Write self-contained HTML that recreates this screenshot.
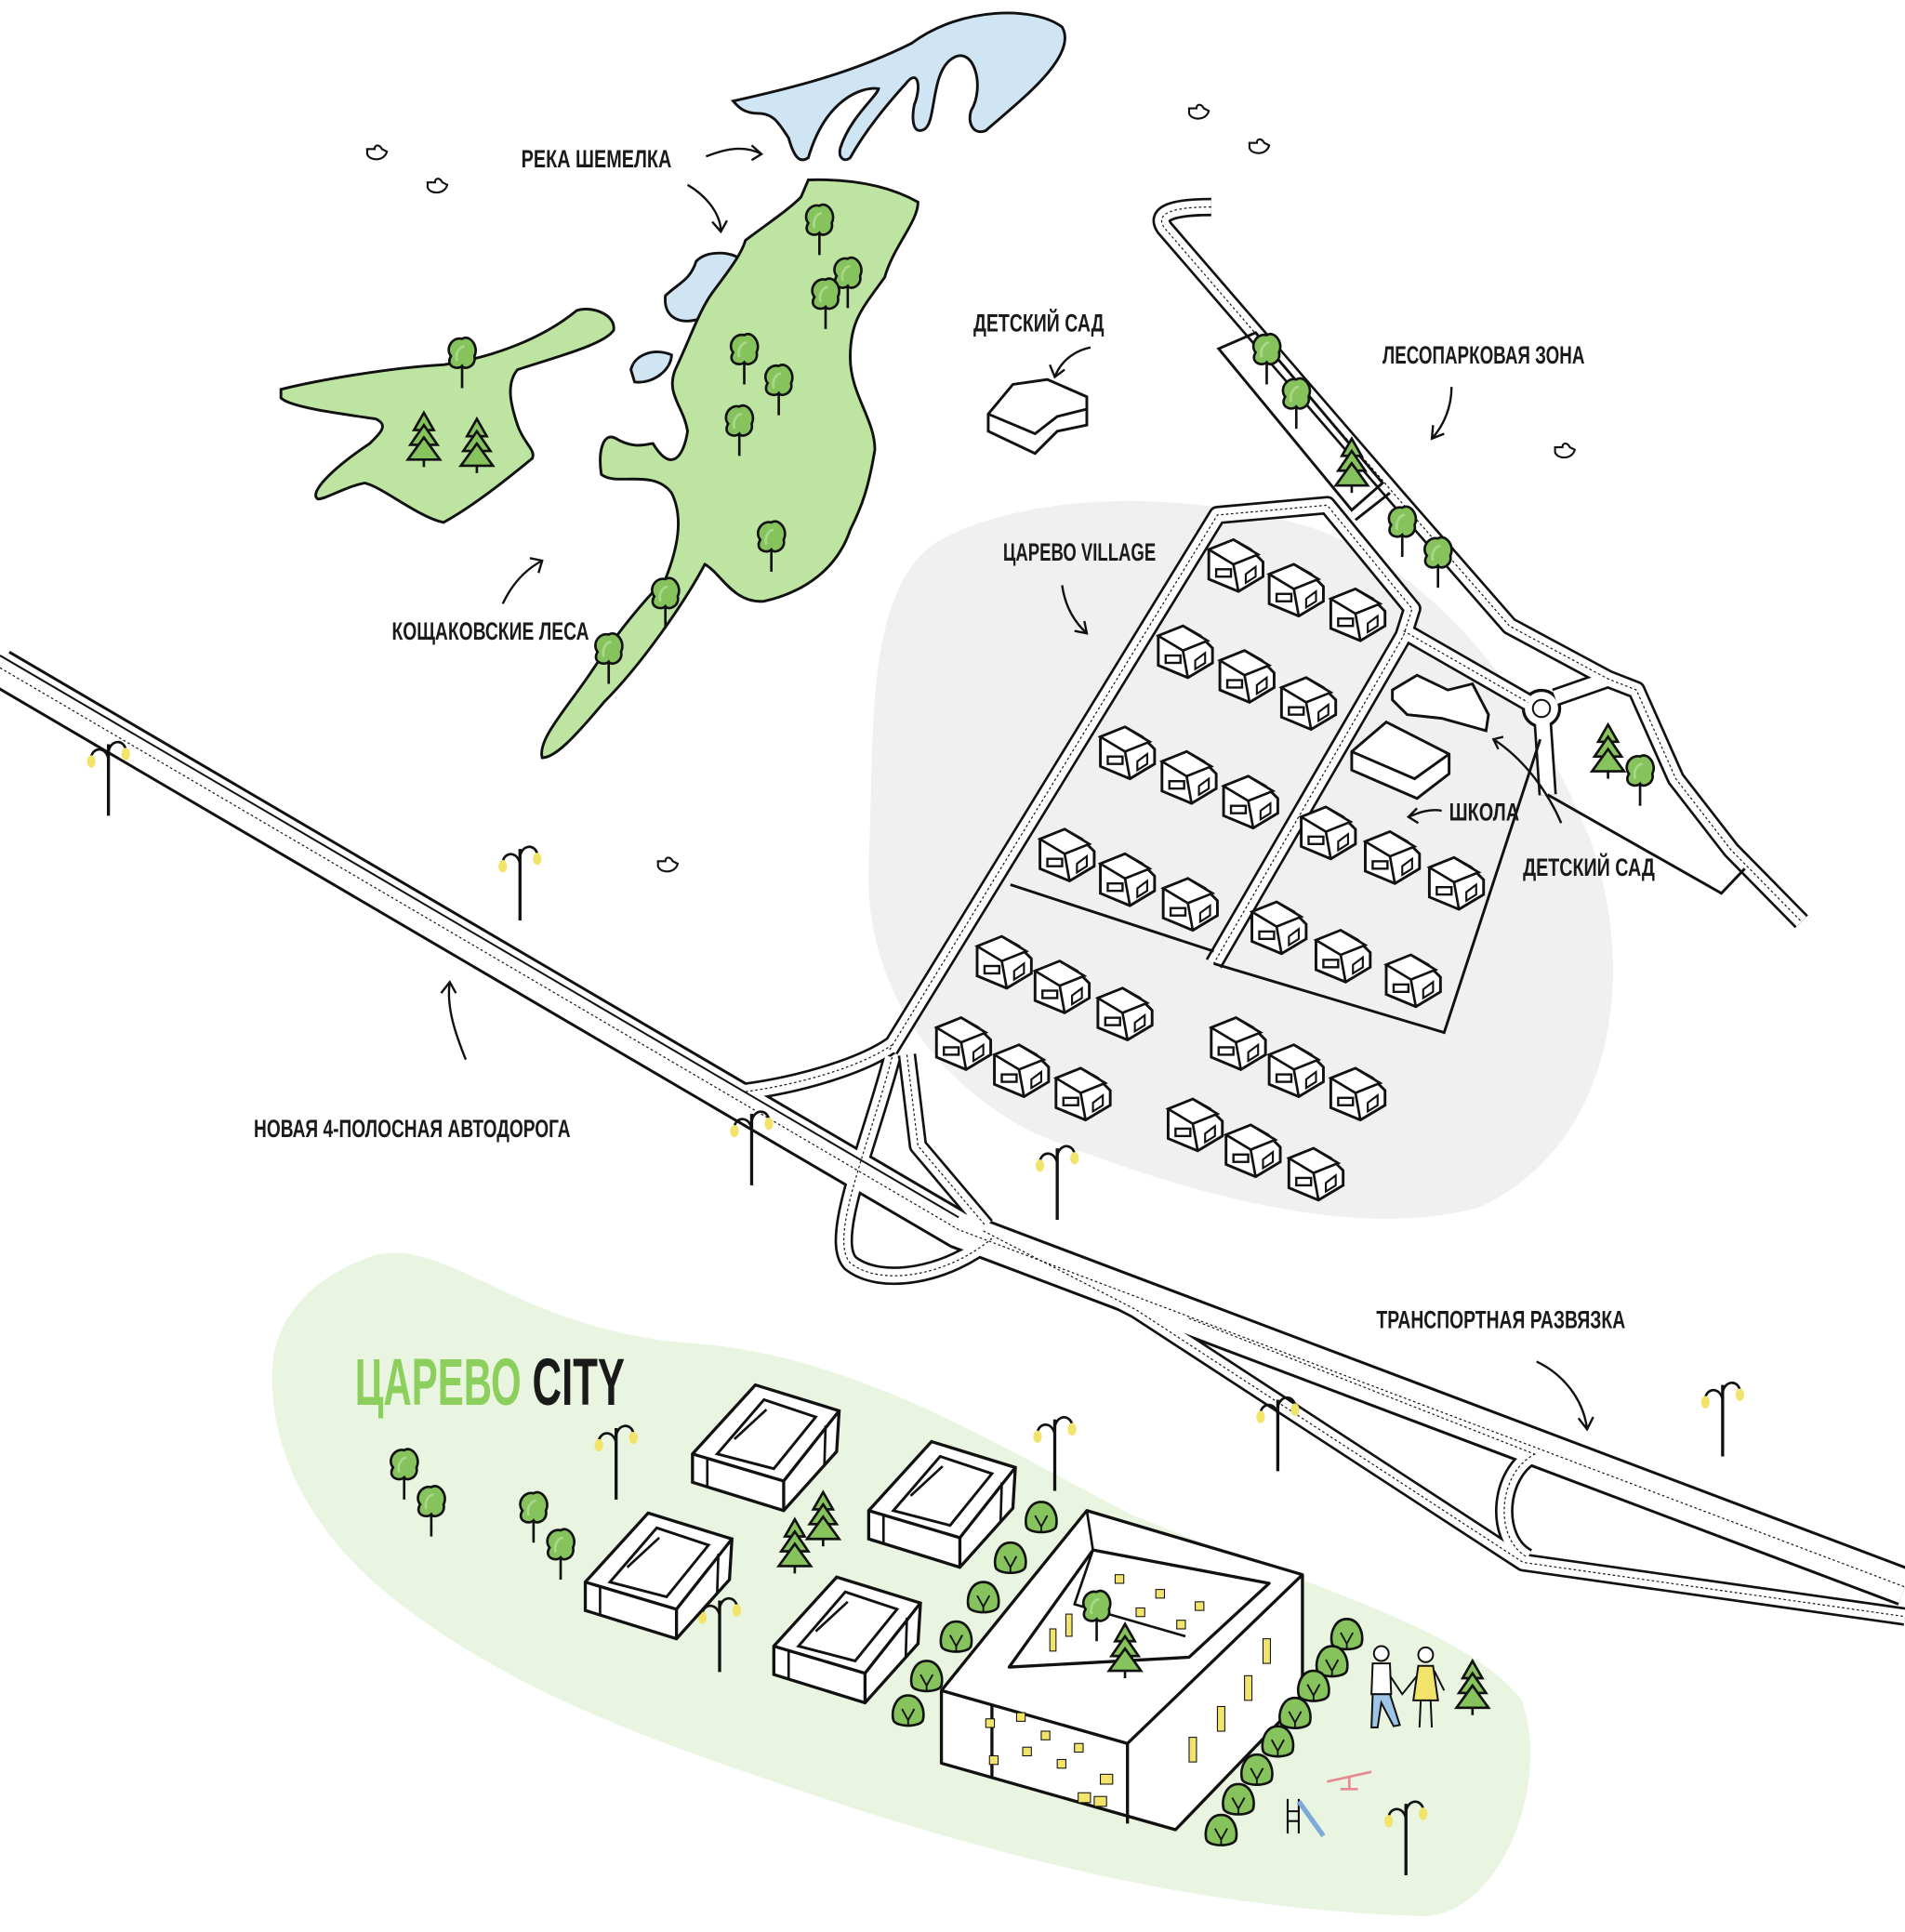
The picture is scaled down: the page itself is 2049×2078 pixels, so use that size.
<!DOCTYPE html>
<html><head><meta charset="utf-8">
<style>
html,body{margin:0;padding:0;background:#fff;}
svg{display:block}
.lbl{font-family:"Liberation Sans",sans-serif;font-weight:bold;font-size:20px;fill:#1a1a1a;}
</style></head>
<body>
<svg width="2049" height="2078" viewBox="0 0 1546 1568" preserveAspectRatio="none" xmlns="http://www.w3.org/2000/svg">
<defs>
<g id="house">
  <polygon points="-22,-12 -2,-20 12,-12 22,-2 22,10 2,22 -22,12" fill="#fff" stroke="#111" stroke-width="2.2"/>
  <polygon points="-22,-12 -2,-20 18,-8 -2,0" fill="#fff" stroke="#111" stroke-width="2"/>
  <line x1="-2" y1="0" x2="2" y2="22" stroke="#111" stroke-width="2"/>
  <rect x="-16" y="4" width="12" height="6" fill="none" stroke="#111" stroke-width="1.8"/>
  <polygon points="8,8 16,2 16,10 8,15" fill="none" stroke="#111" stroke-width="1.6"/>
</g>
<g id="tree">
  <line x1="0" y1="0" x2="0" y2="22" stroke="#111" stroke-width="2"/>
  <path d="M-9,-4 C-14,-10 -8,-20 0,-18 C6,-22 14,-12 10,-4 C12,4 2,8 0,4 C-4,8 -14,4 -9,-4Z" fill="#86c35c" stroke="#111" stroke-width="2"/>
  <path d="M-4,0 C-6,-6 -2,-12 2,-12" fill="none" stroke="#a8d88a" stroke-width="2"/>
</g>
<g id="pine">
  <line x1="0" y1="-22" x2="0" y2="22" stroke="#111" stroke-width="2"/>
  <polygon points="0,-22 -8,-8 8,-8" fill="#86c35c" stroke="#111" stroke-width="2"/>
  <polygon points="0,-12 -11,4 11,4" fill="#86c35c" stroke="#111" stroke-width="2"/>
  <polygon points="0,-2 -13,16 13,16" fill="#86c35c" stroke="#111" stroke-width="2"/>
</g>
<g id="bush">
  <path d="M0,-14 C10,-14 14,-2 12,6 C10,12 -10,12 -12,6 C-14,-2 -10,-14 0,-14Z" fill="#86c35c" stroke="#111" stroke-width="2"/>
  <path d="M-5,-3 L0,6 L5,-3 M0,6 L0,11" fill="none" stroke="#111" stroke-width="1.4"/>
</g>
<g id="lamp">
  <line x1="0" y1="-16" x2="0" y2="42" stroke="#111" stroke-width="2.5"/>
  <path d="M0,-4 C-2,-14 -12,-14 -14,-6 M0,-10 C2,-20 12,-20 14,-12" fill="none" stroke="#111" stroke-width="2"/>
  <ellipse cx="-14" cy="-2" rx="3.5" ry="5" fill="#f2e36a"/>
  <ellipse cx="14" cy="-8" rx="3.5" ry="5" fill="#f2e36a"/>
</g>
<g id="bird">
  <path d="M-8,0 C-6,6 6,6 8,-2 L4,-4 C2,-8 -2,-8 -2,-4 L-8,-4Z" fill="#fff" stroke="#111" stroke-width="1.6"/>
</g>
<g id="block">
  <polygon points="0,56 51,0 119,21 117,54 74,102 0,79" fill="#fff" stroke="#111" stroke-width="2.5"/>
  <polyline points="0,56 74,78 119,21" fill="none" stroke="#111" stroke-width="2.5"/>
  <line x1="74" y1="78" x2="74" y2="102" stroke="#111" stroke-width="2.5"/>
  <polygon points="20,56 58,12 100,26 66,68" fill="#fff" stroke="#111" stroke-width="2.2"/>
  <polyline points="34,44 60,20 M34,44 74,55 M60,20 96,30" fill="none" stroke="#111" stroke-width="2"/>
  <line x1="12" y1="59" x2="12" y2="82" stroke="#111" stroke-width="2"/>
  <line x1="108" y1="33" x2="107" y2="66" stroke="#111" stroke-width="2"/>
</g>
<path id="hw" d="M0,542 L778,998 L1546,1288"/>
<path id="ramp" d="M798,999 L922,1063 L1236,1268 L1546,1312"/>
<path id="merge" d="M965,1070 L1245,1180"/>
<path id="loopR" d="M1246,1180 C1215,1195 1212,1250 1240,1264"/>
<path id="rE" d="M605,886 C650,880 700,865 724,848"/>
<path id="rF" d="M724,858 C705,930 672,1005 690,1025 C715,1045 770,1035 805,1005"/>
<path id="rG" d="M736,856 L745,930 L800,995"/>
<path id="rA" d="M722,852 L988,418 L1077,410 L1146,494 L1139,516 L985,782"/>
<path id="rB" d="M1139,512 L1240,570"/>
<path id="rC" d="M983,168 C955,168 936,172 945,185 L1135,405 L1225,508 L1305,551 L1328,560 L1360,632 L1405,690 L1462,748"/>
<path id="rD" d="M1262,566 L1305,551"/>
<path id="rD2" d="M1252,586 L1256,645"/>
</defs>

<!-- background blobs -->
<path d="M760,440 C830,400 960,395 1070,430 C1170,470 1240,560 1290,680 C1330,790 1310,930 1200,980 C1090,1010 940,960 840,920 C760,880 700,800 705,700 C710,600 700,480 760,440Z" fill="#f0f0f0"/>
<path d="M300,1020 C360,1000 420,1080 560,1090 C700,1100 820,1180 920,1230 C1040,1280 1190,1320 1235,1380 C1260,1450 1215,1560 1150,1555 C1000,1550 860,1520 700,1470 C550,1420 420,1380 310,1290 C240,1230 215,1160 222,1100 C230,1060 260,1035 300,1020Z" fill="#e9f5e0"/>

<!-- river -->
<path d="M595,82 C640,72 690,60 740,35 C780,5 840,5 862,22 C875,45 830,80 800,106 C790,110 785,100 788,90 C800,70 790,35 772,48 C755,60 760,100 750,105 C740,110 740,95 742,85 C748,70 745,55 735,68 C715,90 700,110 690,128 C685,132 680,128 682,120 C690,95 712,78 713,72 C700,70 670,80 656,128 C650,132 645,130 640,112 C632,100 628,92 615,92 C605,92 600,88 595,82Z" fill="#cfe5f4" stroke="#111" stroke-width="2.2"/>
<path d="M540,240 C550,230 560,228 565,212 C575,202 595,205 600,210 C600,228 590,245 570,258 C555,264 538,260 540,240Z" fill="#cfe5f4" stroke="#111" stroke-width="2.2"/>
<path d="M512,300 C515,288 530,282 545,288 C545,300 530,312 515,310Z" fill="#cfe5f4" stroke="#111" stroke-width="2.2"/>

<!-- forest -->
<path d="M656,146 C690,145 720,150 745,164 C745,180 725,200 718,225 C700,250 690,260 690,290 C690,320 710,340 710,365 C705,395 700,410 690,430 C680,460 655,480 620,488 C595,490 585,465 572,458 C555,490 520,540 490,570 C465,600 450,615 440,615 C436,600 460,575 480,545 C500,515 520,490 540,470 C550,445 555,420 545,400 C530,380 500,395 488,385 C485,365 490,350 500,356 C515,365 525,360 530,360 C545,385 555,370 558,350 C555,330 540,320 548,300 C560,275 568,250 580,235 C595,215 602,205 605,195 C625,180 640,170 650,160 Z" fill="#bde5a1" stroke="#111" stroke-width="2.2"/>
<path d="M228,316 C260,308 320,298 360,296 C400,290 440,275 468,252 C480,248 500,255 498,268 C490,280 450,290 420,300 C410,312 415,330 420,345 C425,360 435,365 432,372 C410,390 385,410 360,424 C340,420 310,395 296,392 C280,395 265,405 258,405 C250,400 270,380 300,360 C310,350 315,345 305,340 C270,335 235,330 228,323 Z" fill="#bde5a1" stroke="#111" stroke-width="2.2"/>
<use href="#tree" x="665" y="185"/><use href="#tree" x="688" y="228"/><use href="#tree" x="670" y="245"/>
<use href="#tree" x="604" y="290"/><use href="#tree" x="632" y="315"/><use href="#tree" x="600" y="348"/>
<use href="#tree" x="626" y="442"/><use href="#tree" x="540" y="488"/><use href="#tree" x="494" y="533"/>
<use href="#tree" x="375" y="293"/><use href="#pine" x="344" y="357"/><use href="#pine" x="387" y="362"/>

<!-- roads -->
<g fill="none" stroke="#111" stroke-linejoin="round">
  <use href="#hw" stroke-width="32"/>
  <use href="#ramp" stroke-width="15"/><use href="#merge" stroke-width="15"/><use href="#loopR" stroke-width="15"/>
  <use href="#rE" stroke-width="15"/><use href="#rF" stroke-width="15"/><use href="#rG" stroke-width="15"/>
  <use href="#rA" stroke-width="15"/><use href="#rB" stroke-width="15"/><use href="#rC" stroke-width="15"/>
  <use href="#rD" stroke-width="15"/><use href="#rD2" stroke-width="15"/>
</g>
<circle cx="1251" cy="575" r="16" fill="#111"/>
<g fill="none" stroke="#fff" stroke-linejoin="round">
  <use href="#hw" stroke-width="27.5"/>
  <use href="#ramp" stroke-width="11"/><use href="#merge" stroke-width="11"/><use href="#loopR" stroke-width="11"/>
  <use href="#rE" stroke-width="11"/><use href="#rF" stroke-width="11"/><use href="#rG" stroke-width="11"/>
  <use href="#rA" stroke-width="11"/><use href="#rB" stroke-width="11"/><use href="#rC" stroke-width="11"/>
  <use href="#rD" stroke-width="11"/><use href="#rD2" stroke-width="11"/>
</g>
<circle cx="1251" cy="575" r="13.5" fill="#fff"/>
<circle cx="1251" cy="575" r="7" fill="#fff" stroke="#111" stroke-width="1.5"/>
<g fill="none" stroke="#111" stroke-width="0.9" stroke-dasharray="2,2">
  <use href="#hw"/>
  <use href="#ramp"/><use href="#merge"/><use href="#loopR"/>
  <use href="#rE"/><use href="#rF"/><use href="#rG"/>
  <use href="#rA"/><use href="#rB"/><use href="#rC"/>
</g>
<path d="M0,532 L778,988" fill="none" stroke="#111" stroke-width="1.5"/>

<!-- village lines -->
<g fill="none" stroke="#111" stroke-width="2.2">
<path d="M820,718 L985,772"/>
<path d="M985,782 L1172,838 L1250,600"/>
<polygon points="989,283 1019,270 1122,392 1097,414"/>
<path d="M1100,422 L1128,400"/>
<path d="M1256,645 L1397,725 L1416,705"/>
</g>

<!-- houses -->
<use href="#house" x="1003" y="458"/><use href="#house" x="1052" y="478"/><use href="#house" x="1102" y="498"/>
<use href="#house" x="962" y="528"/><use href="#house" x="1012" y="548"/><use href="#house" x="1062" y="570"/>
<use href="#house" x="915" y="610"/><use href="#house" x="965" y="630"/><use href="#house" x="1015" y="650"/>
<use href="#house" x="866" y="693"/><use href="#house" x="915" y="713"/><use href="#house" x="966" y="733"/>
<use href="#house" x="1078" y="675"/><use href="#house" x="1130" y="695"/><use href="#house" x="1182" y="716"/>
<use href="#house" x="1038" y="752"/><use href="#house" x="1090" y="775"/><use href="#house" x="1147" y="795"/>
<use href="#house" x="815" y="780"/><use href="#house" x="862" y="800"/><use href="#house" x="913" y="822"/>
<use href="#house" x="782" y="846"/><use href="#house" x="829" y="868"/><use href="#house" x="879" y="887"/>
<use href="#house" x="1005" y="846"/><use href="#house" x="1052" y="868"/><use href="#house" x="1102" y="887"/>
<use href="#house" x="970" y="912"/><use href="#house" x="1017" y="933"/><use href="#house" x="1068" y="952"/>

<!-- school, kindergartens -->
<g fill="#fff" stroke="#111" stroke-width="2.2">
<polygon points="1097,610 1125,586 1176,612 1176,628 1150,648 1097,625"/>
<polyline points="1097,610 1148,632 1176,612 M1148,632 1148,648 M1135,628 1135,640" fill="none"/>
<polygon points="1130,560 1150,548 1175,560 1195,555 1208,580 1206,593 1170,583 1142,580 1130,568"/>
<polygon points="802,336 822,312 850,308 882,322 882,345 858,350 840,368 802,350"/>
<polyline points="802,336 840,352 858,338 882,332 M812,340 812,356 M825,345 825,361 M840,352 840,368" fill="none"/>
</g>

<!-- trees near village -->
<use href="#tree" x="1028" y="290"/><use href="#tree" x="1052" y="326"/><use href="#pine" x="1097" y="378"/>
<use href="#tree" x="1138" y="430"/><use href="#tree" x="1167" y="455"/>
<use href="#pine" x="1305" y="610"/><use href="#tree" x="1331" y="632"/>

<!-- lamps -->
<use href="#lamp" x="88" y="620"/><use href="#lamp" x="422" y="705"/><use href="#lamp" x="610" y="920"/>
<use href="#lamp" x="858" y="948"/><use href="#lamp" x="1037" y="1152"/><use href="#lamp" x="1398" y="1140"/>
<use href="#lamp" x="500" y="1175"/><use href="#lamp" x="856" y="1168"/><use href="#lamp" x="584" y="1315"/>
<use href="#lamp" x="1141" y="1480"/>

<!-- birds -->
<use href="#bird" x="306" y="125"/><use href="#bird" x="355" y="152"/><use href="#bird" x="973" y="92"/>
<use href="#bird" x="1022" y="120"/><use href="#bird" x="1270" y="367"/><use href="#bird" x="542" y="703"/>

<!-- city -->
<use href="#block" x="562" y="1124"/><use href="#block" x="705" y="1170"/>
<use href="#block" x="475" y="1228"/><use href="#block" x="628" y="1280"/>
<g fill="#fff" stroke="#111" stroke-width="2.5" stroke-linejoin="round">
<polygon points="764,1372 882,1226 1057,1278 1057,1378 954,1485 764,1431"/>
<polyline points="764,1372 915,1415 1057,1278" fill="none"/>
<line x1="915" y1="1415" x2="915" y2="1480"/>
<line x1="805" y1="1384" x2="805" y2="1442"/>
<polygon points="819,1353 887,1258 1030,1285 965,1345"/>
<polyline points="887,1258 872,1302 962,1328 M872,1302 848,1352" fill="none" stroke-width="2"/>
<polyline points="882,1226 887,1258 M1030,1285 1057,1278 M965,1345 915,1415 M819,1353 764,1372" fill="none" stroke-width="2"/>
</g>
<g fill="#f2e36a" stroke="#111" stroke-width="0.8">
<rect x="800" y="1395" width="7" height="7"/><rect x="825" y="1390" width="7" height="7"/><rect x="845" y="1405" width="7" height="7"/>
<rect x="872" y="1415" width="7" height="7"/><rect x="803" y="1425" width="7" height="7"/><rect x="830" y="1418" width="7" height="7"/>
<rect x="858" y="1428" width="7" height="7"/><rect x="893" y="1440" width="10" height="8"/><rect x="875" y="1455" width="10" height="8"/><rect x="888" y="1458" width="10" height="8"/>
<rect x="905" y="1278" width="7" height="7"/><rect x="938" y="1290" width="7" height="7"/><rect x="922" y="1305" width="7" height="7"/><rect x="970" y="1300" width="7" height="7"/>
<rect x="955" y="1315" width="7" height="7"/><rect x="1025" y="1330" width="6" height="20"/><rect x="1010" y="1360" width="6" height="20"/>
<rect x="988" y="1385" width="6" height="20"/><rect x="965" y="1410" width="6" height="20"/>
<rect x="852" y="1322" width="5" height="18"/><rect x="865" y="1310" width="5" height="18"/>
</g>
<use href="#tree" x="890" y="1310"/><use href="#pine" x="913" y="1340"/>
<use href="#tree" x="328" y="1195"/><use href="#tree" x="350" y="1225"/><use href="#tree" x="433" y="1230"/><use href="#tree" x="455" y="1260"/>
<use href="#pine" x="668" y="1233"/><use href="#pine" x="645" y="1255"/><use href="#pine" x="1195" y="1370"/>
<use href="#bush" x="845" y="1233"/><use href="#bush" x="820" y="1266"/><use href="#bush" x="798" y="1298"/>
<use href="#bush" x="776" y="1330"/><use href="#bush" x="752" y="1362"/><use href="#bush" x="737" y="1390"/>
<use href="#bush" x="1093" y="1328"/><use href="#bush" x="1081" y="1350"/><use href="#bush" x="1066" y="1370"/>
<use href="#bush" x="1051" y="1392"/><use href="#bush" x="1037" y="1415"/><use href="#bush" x="1020" y="1438"/>
<use href="#bush" x="1005" y="1462"/><use href="#bush" x="991" y="1487"/>
<!-- people -->
<g stroke="#111" stroke-width="1.5">
<circle cx="1121" cy="1342" r="6" fill="#fff"/><path d="M1114,1350 L1128,1350 L1129,1375 L1113,1375Z" fill="#fff"/>
<path d="M1114,1375 L1128,1375 L1136,1400 L1131,1401 L1121,1382 L1118,1402 L1113,1402Z" fill="#9ec5e8"/>
<circle cx="1157" cy="1343" r="6" fill="#fff"/><path d="M1151,1352 L1163,1352 L1167,1380 L1147,1380Z" fill="#f2e36a"/>
<path d="M1153,1380 L1152,1402 M1161,1380 L1162,1402 M1164,1356 L1172,1372 M1128,1360 L1138,1375 L1150,1360" fill="none"/>
</g>
<g stroke-width="2" fill="none">
<path d="M1077,1446 L1113,1438 M1095,1442 L1095,1452 M1088,1452 L1102,1452" stroke="#e58a90"/>
<path d="M1045,1460 L1045,1488 M1054,1460 L1054,1488 M1045,1470 L1054,1470 M1045,1478 L1054,1478" stroke="#111" stroke-width="1.6"/>
<path d="M1054,1462 L1074,1490" stroke="#7fa9d6" stroke-width="4"/>
</g>

<!-- arrows -->
<g fill="none" stroke="#111" stroke-width="1.8">
<path d="M573,127 C590,120 605,118 618,125 M610,118 L618,125 L610,130"/>
<path d="M558,150 C575,160 585,175 585,188 M578,180 L585,188 L590,179"/>
<path d="M885,282 C870,285 860,295 856,306 M852,296 L856,306 L864,300"/>
<path d="M1178,314 C1178,330 1172,345 1162,356 M1163,345 L1162,356 L1172,352"/>
<path d="M862,475 C864,490 870,503 882,514 M872,512 L882,514 L880,504"/>
<path d="M408,490 C415,475 425,463 440,455 M430,453 L440,455 L437,465"/>
<path d="M1170,658 C1160,656 1150,660 1143,663 M1150,656 L1143,663 L1151,668"/>
<path d="M1267,668 C1255,640 1235,615 1212,600 M1220,598 L1212,600 L1216,608"/>
<path d="M378,860 C370,840 362,818 365,797 M358,806 L365,797 L370,806"/>
<path d="M1247,1105 C1268,1115 1285,1135 1288,1160 M1281,1151 L1288,1160 L1293,1150"/>
</g>

<!-- labels -->
<text class="lbl" x="423" y="136" textLength="122" lengthAdjust="spacingAndGlyphs">РЕКА ШЕМЕЛКА</text>
<text class="lbl" x="790" y="269" textLength="106" lengthAdjust="spacingAndGlyphs">ДЕТСКИЙ САД</text>
<text class="lbl" x="1122" y="295" textLength="164" lengthAdjust="spacingAndGlyphs">ЛЕСОПАРКОВАЯ ЗОНА</text>
<text class="lbl" x="814" y="455" textLength="124" lengthAdjust="spacingAndGlyphs">ЦАРЕВО VILLAGE</text>
<text class="lbl" x="318" y="519" textLength="160" lengthAdjust="spacingAndGlyphs">КОЩАКОВСКИЕ ЛЕСА</text>
<text class="lbl" x="1176" y="666" textLength="57" lengthAdjust="spacingAndGlyphs">ШКОЛА</text>
<text class="lbl" x="1236" y="711" textLength="107" lengthAdjust="spacingAndGlyphs">ДЕТСКИЙ САД</text>
<text class="lbl" x="206" y="923" textLength="257" lengthAdjust="spacingAndGlyphs">НОВАЯ 4-ПОЛОСНАЯ АВТОДОРОГА</text>
<text class="lbl" x="1117" y="1078" textLength="202" lengthAdjust="spacingAndGlyphs">ТРАНСПОРТНАЯ РАЗВЯЗКА</text>
<text x="288" y="1140" font-family="Liberation Sans,sans-serif" font-weight="bold" font-size="54" fill="#8ccf5c" textLength="135" lengthAdjust="spacingAndGlyphs">ЦАРЕВО</text>
<text x="432" y="1140" font-family="Liberation Sans,sans-serif" font-weight="bold" font-size="54" fill="#1a1a1a" textLength="75" lengthAdjust="spacingAndGlyphs">CITY</text>
</svg>
</body></html>
